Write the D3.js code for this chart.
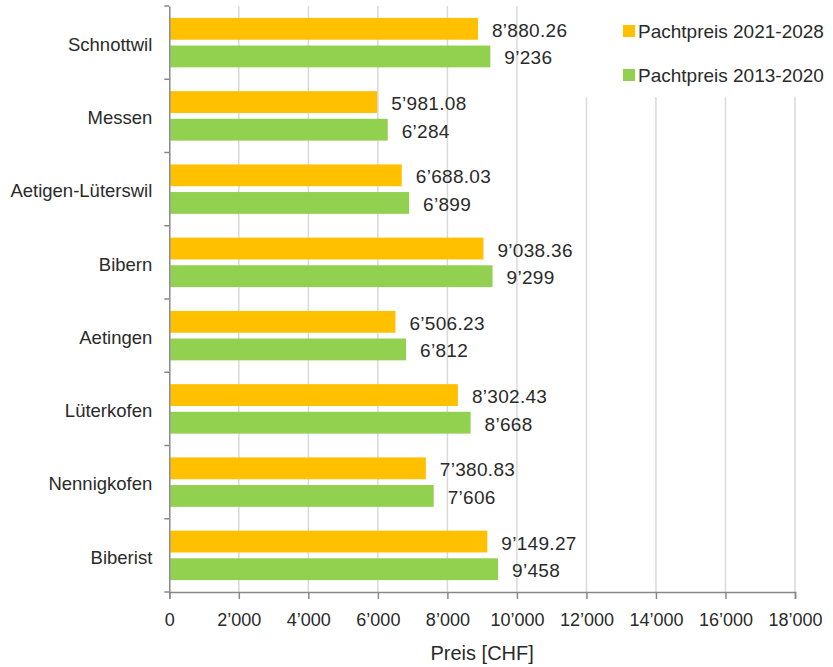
<!DOCTYPE html>
<html><head><meta charset="utf-8">
<script src="https://cdn.jsdelivr.net/npm/d3@7"></script>
<style>html,body{margin:0;padding:0;background:#fff;}</style>
</head><body>
<svg id="chart" width="833" height="667"></svg>
<script>
const categories = ["Schnottwil","Messen","Aetigen-Lüterswil","Bibern","Aetingen","Lüterkofen","Nennigkofen","Biberist"];
const seriesNames = ["Pachtpreis 2021-2028","Pachtpreis 2013-2020"];
const values2021 = [8880.26,5981.08,6688.03,9038.36,6506.23,8302.43,7380.83,9149.27];
const values2013 = [9236,6284,6899,9299,6812,8668,7606,9458];
const xTicks = [0,2000,4000,6000,8000,10000,12000,14000,16000,18000];
const axisTitle = "Preis [CHF]";
const colors = ["#FFC000","#92D050"];

(function(){
const svg = d3.select("#chart");
const font = "'Liberation Sans', Arial, Helvetica, sans-serif";
const txt = "#2a2a2a";
const pLeft = 169.3, pRight = 795, pTop = 6, pBottom = 592;

const x = d3.scaleLinear().domain([0,18000]).range([pLeft,pRight]);
const y = d3.scaleBand().domain(categories).range([pTop,pBottom]).paddingInner(0).paddingOuter(0);
const inner = d3.scaleBand().domain([0,1]).range([11.9, 73.25-11.9]).paddingInner(0.21);

const loc = d3.formatLocale({decimal:".", thousands:"’", grouping:[3], currency:["",""]});
const fmt0 = loc.format(",.0f"), fmt2 = loc.format(",.2f");

// gridlines
svg.append("g").selectAll("line").data(xTicks.slice(1)).join("line")
  .attr("x1",d=>x(d)).attr("x2",d=>x(d)).attr("y1",pTop).attr("y2",pBottom)
  .attr("stroke","#d9d9d9").attr("stroke-width",1.5);

// legend background covering gridlines
svg.append("rect").attr("x",584).attr("y",0).attr("width",249).attr("height",97).attr("fill","#fff");

// bars
const data = [];
categories.forEach((c,i)=>{
  data.push({c, s:0, v:values2021[i], label:fmt2(values2021[i])});
  data.push({c, s:1, v:values2013[i], label:fmt0(values2013[i])});
});
svg.append("g").selectAll("rect").data(data).join("rect")
  .attr("x",x(0)+1).attr("y",d=>y(d.c)+inner(d.s))
  .attr("width",d=>x(d.v)-x(0)-1).attr("height",inner.bandwidth())
  .attr("fill",d=>colors[d.s]);

svg.append("g").selectAll("text").data(data).join("text")
  .attr("x",d=>x(d.v)+14).attr("y",d=>y(d.c)+inner(d.s)+inner.bandwidth()/2+8)
  .attr("font-family",font).attr("font-size",19).attr("fill",txt).attr("letter-spacing",0.3)
  .text(d=>d.label);

// x axis
const xAxis = svg.append("g").attr("transform",`translate(0,${pBottom})`)
  .call(d3.axisBottom(x).tickValues(xTicks).tickSize(7).tickPadding(14).tickFormat(d=>fmt0(d)));
xAxis.select(".domain").attr("stroke","#888").attr("stroke-width",1.5);
xAxis.selectAll(".tick line").attr("stroke","#888").attr("stroke-width",1.5);
xAxis.selectAll("text").attr("font-family",font).attr("font-size",18).attr("fill",txt);

// y axis
const yAxis = svg.append("g").attr("transform",`translate(${pLeft},0)`)
  .call(d3.axisLeft(y).tickSize(0).tickPadding(17));
yAxis.select(".domain").attr("stroke","#888").attr("stroke-width",1.5);
yAxis.selectAll("text").attr("font-family",font).attr("font-size",18.5).attr("fill",txt)
  .attr("dy","0.45em");
const bounds = [pTop].concat(categories.map(c=>y(c)+y.bandwidth()));
yAxis.append("g").selectAll("line").data(bounds).join("line")
  .attr("x1",-5).attr("x2",0).attr("y1",d=>d).attr("y2",d=>d)
  .attr("stroke","#888").attr("stroke-width",1.5);

// axis title
svg.append("text").attr("x",(pLeft+pRight)/2).attr("y",660).attr("text-anchor","middle")
  .attr("font-family",font).attr("font-size",20).attr("fill",txt).text(axisTitle);

// legend
const lg = svg.append("g");
seriesNames.forEach((n,i)=>{
  const cy = 31 + i*44;
  lg.append("rect").attr("x",623).attr("y",cy-6).attr("width",12).attr("height",12).attr("fill",colors[i]);
  lg.append("text").attr("x",638).attr("y",cy+7).attr("font-family",font).attr("font-size",19)
    .attr("fill",txt).text(n);
});
})();
</script>
</body></html>
